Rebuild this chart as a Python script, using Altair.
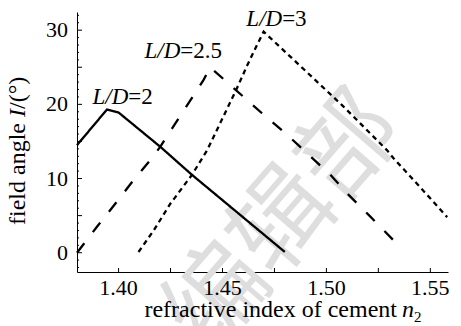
import altair as alt
import pandas as pd

# ---- curves: field angle I (deg) vs refractive index of cement n2 ----
n_ld2 = [1.380, 1.3944, 1.400, 1.420, 1.4353, 1.480]
I_ld2 = [14.5, 19.3, 18.9, 14.3, 10.5, 0.1]

n_ld25 = [1.380, 1.3896, 1.3984, 1.4072, 1.4153, 1.4201, 1.4409, 1.4441,
          1.4690, 1.4811, 1.4907, 1.5019, 1.5107, 1.5203, 1.5322]
I_ld25 = [0.0, 3.5, 6.6, 9.8, 12.5, 14.3, 23.3, 25.0,
          18.8, 15.9, 13.4, 10.5, 7.8, 5.1, 1.7]

n_ld3 = [1.4096, 1.4169, 1.4249, 1.4353, 1.4426, 1.4570, 1.4618, 1.4666,
         1.4698, 1.5075, 1.5292, 1.5324, 1.5436, 1.5581]
I_ld3 = [0.1, 3.0, 6.6, 10.5, 13.8, 22.2, 25.2, 28.0,
         29.8, 19.9, 13.8, 12.7, 9.3, 4.8]

series_names = ["L/D=2", "L/D=2.5", "L/D=3"]

# ---- curve labels ----
label_n = [1.4047, 1.4297, 1.4787]
label_I = [20.0, 26.3, 30.55]
label_head = ["L/D", "L/D", "L/D"]
label_tail = ["=2", "=2.5", "=3"]

# ---- axis ticks and tick labels ----
x_label_values = [1.40, 1.45, 1.50, 1.55]
x_label_text = ["1.40", "1.45", "1.50", "1.55"]
x_tick_values = [1.40, 1.425, 1.45, 1.475, 1.50, 1.525, 1.55]
y_label_values = [0, 10, 20, 30]
y_label_text = ["0", "10", "20", "30"]
y_major_ticks = [0, 5, 10, 15, 20, 25, 30]
y_minor_ticks = [-2, -1, 1, 2, 3, 4, 6, 7, 8, 9, 11, 12, 13, 14, 16, 17, 18, 19,
                 21, 22, 23, 24, 26, 27, 28, 29, 31, 32]

W, H = 371, 260
SERIF = "Liberation Serif"

rows = []
for name, ns, Is in zip(series_names, [n_ld2, n_ld25, n_ld3], [I_ld2, I_ld25, I_ld3]):
    for k, (a, b) in enumerate(zip(ns, Is)):
        rows.append({"series": name, "n": a, "I": b, "k": k})
curves = pd.DataFrame(rows)

xs = alt.Scale(domain=[1.38, 1.5585], nice=False, zero=False)
ys = alt.Scale(domain=[-2.6, 32.45], nice=False, zero=False)

# light diagonal watermark behind everything
watermark = alt.Chart(pd.DataFrame({"t": ["编辑部"]})).mark_text(
    font="Noto Sans CJK SC", fontSize=100, color="#dedede",
    angle=311, align="center", baseline="middle"
).encode(text="t:N", x=alt.value(208), y=alt.value(211))

lines = alt.Chart(curves).mark_line(color="black", strokeWidth=2.3).encode(
    x=alt.X("n:Q", scale=xs,
            axis=alt.Axis(values=x_label_values, labels=False, ticks=False,
                          tickSize=0, grid=False, title=None,
                          domainColor="black", domainWidth=1)),
    y=alt.Y("I:Q", scale=ys,
            axis=alt.Axis(values=y_label_values, labels=False, ticks=False,
                          tickSize=0, grid=False, title=None,
                          domainColor="black", domainWidth=1)),
    detail="series:N",
    order="k:Q",
    strokeDash=alt.StrokeDash(
        "series:N",
        scale=alt.Scale(domain=series_names, range=[[1, 0], [12, 14], [5, 4]]),
        legend=None),
)

# inward-pointing tick marks
x_ticks = alt.Chart(pd.DataFrame({"n": x_tick_values})).mark_rule(
    color="black", strokeWidth=1).encode(
    x=alt.X("n:Q", scale=xs), y=alt.value(H), y2=alt.value(H - 4))
y_major = alt.Chart(pd.DataFrame({"I": y_major_ticks})).mark_rule(
    color="black", strokeWidth=1).encode(
    y=alt.Y("I:Q", scale=ys), x=alt.value(0), x2=alt.value(5))
y_minor = alt.Chart(pd.DataFrame({"I": y_minor_ticks})).mark_rule(
    color="black", strokeWidth=1).encode(
    y=alt.Y("I:Q", scale=ys), x=alt.value(0), x2=alt.value(2))

# tick labels in a serif face
x_tick_labels = alt.Chart(pd.DataFrame({"n": x_label_values, "t": x_label_text})).mark_text(
    font=SERIF, fontSize=22, align="center", baseline="alphabetic", color="black"
).encode(x=alt.X("n:Q", scale=xs), y=alt.value(H + 22.5), text="t:N")
y_tick_labels = alt.Chart(pd.DataFrame({"I": y_label_values, "t": y_label_text})).mark_text(
    font=SERIF, fontSize=22, align="right", baseline="middle", color="black"
).encode(y=alt.Y("I:Q", scale=ys), x=alt.value(-9), text="t:N")

labels = pd.DataFrame({"n": label_n, "I": label_I,
                       "head": label_head, "tail": label_tail})
label_head_marks = alt.Chart(labels).mark_text(
    font=SERIF, fontSize=23, fontStyle="italic", align="right",
    baseline="alphabetic", color="black").encode(
    x=alt.X("n:Q", scale=xs), y=alt.Y("I:Q", scale=ys), text="head:N")
label_tail_marks = alt.Chart(labels).mark_text(
    font=SERIF, fontSize=23, align="left", baseline="alphabetic",
    color="black").encode(
    x=alt.X("n:Q", scale=xs), y=alt.Y("I:Q", scale=ys), text="tail:N")

# axis titles with italic symbols
def title_text(txt, x, y, size=24, style="normal", align="left", angle=0):
    kw = dict(font=SERIF, fontSize=size, fontStyle=style, align=align,
              baseline="alphabetic", color="black")
    if angle:
        kw["angle"] = angle
    return alt.Chart(pd.DataFrame({"t": [txt]})).mark_text(**kw).encode(
        text="t:N", x=alt.value(x), y=alt.value(y))

xt_main = title_text("refractive index of cement", 320, 305, align="right")
xt_n = title_text("n", 325, 305, style="italic")
xt_sub = title_text("2", 337, 310, size=15)

yt_main = title_text("field angle", -51.7, 111, align="right", angle=270)
yt_I = title_text("I", -51.7, 105, style="italic", align="left", angle=270)
yt_rest = title_text("/(°)", -51.7, 97, align="left", angle=270)

chart = alt.layer(
    watermark, lines, x_ticks, y_major, y_minor,
    x_tick_labels, y_tick_labels,
    label_head_marks, label_tail_marks,
    xt_main, xt_n, xt_sub, yt_main, yt_I, yt_rest,
).properties(
    width=W, height=H,
    autosize=alt.AutoSizeParams(type="none"),
    padding={"left": 77, "top": 12, "right": 13, "bottom": 54},
    background="white",
).configure(
    font=SERIF,
).configure_view(stroke=None)

chart.save("out.html", embed_options={"renderer": "svg", "actions": False})
